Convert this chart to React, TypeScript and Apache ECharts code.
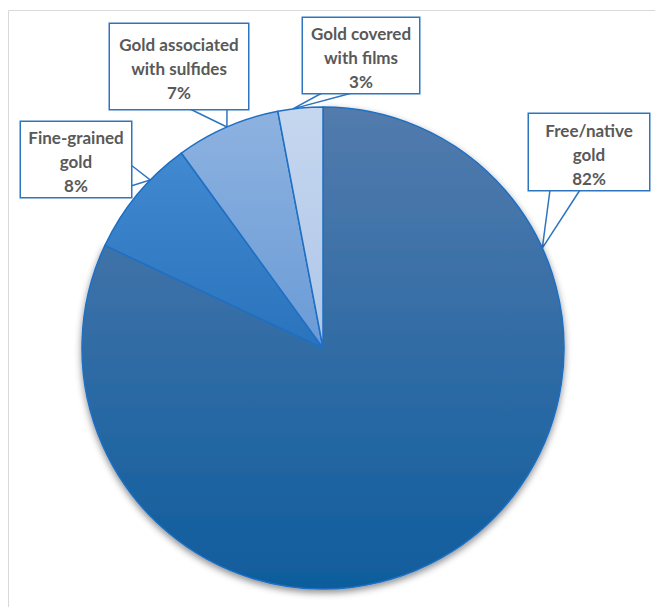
import React, { useEffect, useRef } from "react";
import * as echarts from "echarts";

const categories = [
  "Free/native\ngold",
  "Fine-grained\ngold",
  "Gold associated\nwith sulfides",
  "Gold covered\nwith films",
];
const shares = [82, 8, 7, 3];
const gradientTop = ["#537bad", "#4189d0", "#8db2e0", "#c6d7ef"];
const gradientBottom = ["#0f5d9d", "#2a74bd", "#6a9bd6", "#aec6e8"];

const CENTER = [323, 348];
const RADIUS = 241;

// callout layout (annotation boxes, not data)
const calloutBoxes = [
  { x: 529, y: 114, w: 120, pt: 4, pb: 0, base: [[550, 190], [580, 190]], apexDeg: 65.5 },
  { x: 21, y: 122, w: 110, pt: 3, pb: 0, base: [[131, 165], [131, 186]], apexDeg: 314.2 },
  { x: 110, y: 24, w: 138, pt: 8, pb: 5, base: [[190, 109], [227, 109]], apexDeg: 336.5 },
  { x: 303, y: 18, w: 116, pt: 3, pb: 0, base: [[322, 93], [352, 93]], apexDeg: 352.8 },
];

export default function App() {
  const ref = useRef<HTMLDivElement>(null);
  useEffect(() => {
    if (!ref.current) return;
    const chart = echarts.init(ref.current, undefined, { renderer: "svg" });
    const data = categories.map((name, i) => ({
      name,
      value: shares[i],
      itemStyle: {
        color: new echarts.graphic.LinearGradient(0, 0, 0, 1, [
          { offset: 0, color: gradientTop[i] },
          { offset: 1, color: gradientBottom[i] },
        ]),
        ...(i === 0
          ? { shadowBlur: 7, shadowOffsetY: 3, shadowColor: "rgba(0,0,0,0.45)" }
          : {}),
      },
      label: {
        width: calloutBoxes[i].w - 12,
        overflow: "none",
        padding: [calloutBoxes[i].pt, 6, calloutBoxes[i].pb, 6],
      },
    }));
    chart.setOption({
      animation: false,
      backgroundColor: "#ffffff",
      graphic: [
        {
          type: "rect",
          z: -10,
          silent: true,
          shape: { x: 8.5, y: 10.5, width: 700, height: 700 },
          style: { fill: "none", stroke: "#d9d9d9", lineWidth: 1 },
        },
      ],
      series: [
        {
          type: "pie",
          center: CENTER,
          radius: RADIUS,
          startAngle: 90,
          clockwise: true,
          avoidLabelOverlap: false,
          minShowLabelAngle: 0,
          data,
          itemStyle: { borderColor: "#1f6fc4", borderWidth: 1.5 },
          emphasis: { disabled: true },
          label: {
            show: true,
            position: "outside",
            overflow: "none",
            formatter: (p: any) => `${p.name}\n${Math.round(p.percent)}%`,
            fontFamily: "Lato",
            fontWeight: "bold",
            fontSize: 17,
            lineHeight: 24,
            color: "#595959",
            align: "center",
            backgroundColor: "#ffffff",
            borderColor: "#2e75c0",
            borderWidth: 1.5,
          },
          labelLine: {
            show: true,
            lineStyle: { color: "#2e75c0", width: 1.5 },
          },
          labelLayout: (params: any) => {
            const b = calloutBoxes[params.dataIndex];
            const a = (b.apexDeg * Math.PI) / 180;
            const apex = [CENTER[0] + RADIUS * Math.sin(a), CENTER[1] - RADIUS * Math.cos(a)];
            return {
              x: b.x + b.w / 2,
              y: b.y,
              align: "center",
              verticalAlign: "top",
              labelLinePoints: [b.base[0], apex, b.base[1]],
            };
          },
        },
      ],
    });
    return () => chart.dispose();
  }, []);
  return (
    <div
      ref={ref}
      style={{ position: "absolute", left: 0, top: 0, width: 655, height: 607 }}
    />
  );
}
